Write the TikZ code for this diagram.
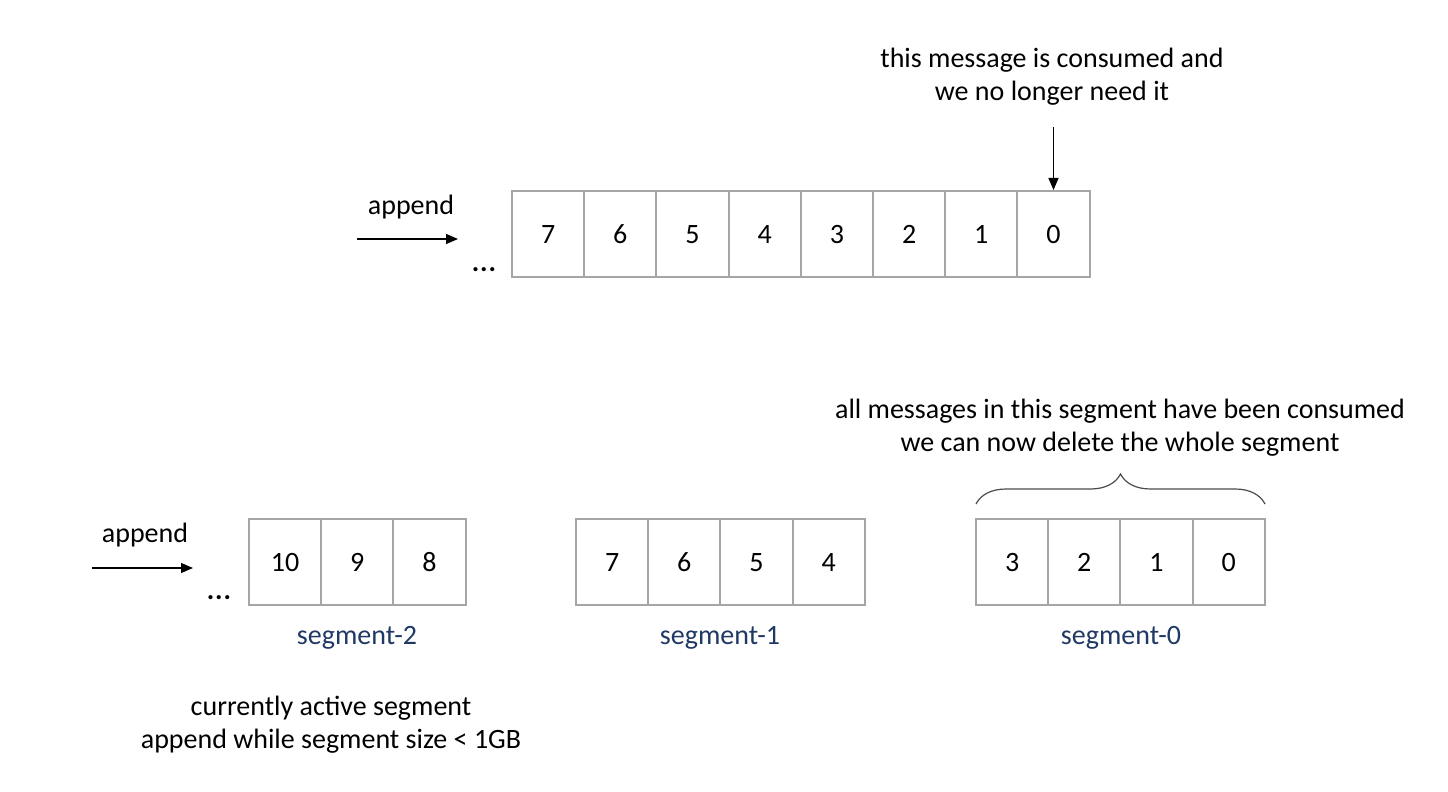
\documentclass[tikz,border=0pt]{standalone}
\usepackage{fontspec}
\setmainfont{Carlito}
\usetikzlibrary{arrows.meta,decorations.pathreplacing}
\definecolor{boxgray}{HTML}{A6A6A6}
\definecolor{segblue}{HTML}{203864}
\begin{document}
\begin{tikzpicture}[x=0.5pt,y=-0.5pt,
  cell/.style={draw=boxgray,line width=1pt,minimum width=36.1pt,minimum height=43pt,inner sep=0pt,text height=9pt,text depth=0pt,font=\fontsize{14}{17}\selectfont},
  txt/.style={font=\fontsize{14}{16.5}\selectfont,align=center,inner sep=0pt},
  seg/.style={font=\fontsize{14}{16.5}\selectfont,text=segblue,inner sep=0pt},
  arr/.style={-{Triangle[length=6pt,width=5pt]},line width=0.6pt}]
\useasboundingbox (0,0) rectangle (1448,792);
% top row
\foreach \v [count=\i from 0] in {7,6,5,4,3,2,1,0}{
  \node[cell] (t\v) at (548.1+72.2*\i,234) {\v};
}
\node[txt,font=\bfseries\fontsize{14}{16.5}\selectfont] (tdots) at (484,270) {.\kern0.5pt.\kern0.5pt.};
\node[txt] (tapp) at (411,207) {append};
\coordinate (tas) at (357,239);
\coordinate (tae) at (458,239);
\draw[arr] (tas) -- (tae);
\node[txt] (tnote) at (1052,77) {this message is consumed and\\we no longer need it};
\path (t0.north) ++(0,-63) coordinate (tarrs);
\draw[arr] (tarrs) -- (t0.north);
% segment-2
\foreach \v [count=\i from 0] in {10,9,8}{
  \node[cell] (s\v) at (285.1+72.2*\i,562) {\v};
}
\node[txt,font=\bfseries\fontsize{14}{16.5}\selectfont] (bdots) at (219,598) {.\kern0.5pt.\kern0.5pt.};
\node[txt] (bapp) at (145,535) {append};
\coordinate (bas) at (92,568);
\coordinate (bae) at (193,568);
\draw[arr] (bas) -- (bae);
\node[seg] (l2) at (357,638) {segment-2};
% segment-1
\foreach \v [count=\i from 0] in {7,6,5,4}{
  \node[cell] (m\v) at (612.1+72.2*\i,562) {\v};
}
\node[seg] (l1) at (720,638) {segment-1};
% segment-0
\foreach \v [count=\i from 0] in {3,2,1,0}{
  \node[cell] (z\v) at (1012.1+72.2*\i,562) {\v};
}
\node[seg] (l0) at (1121,638) {segment-0};
\coordinate (brl) at (976,504);
\coordinate (brr) at (1265,504);
\draw[line width=0.6pt,black!70,decorate,decoration={brace,amplitude=15pt}] (brl) -- (brr);
\node[txt] (bnote) at (1120,428) {all messages in this segment have been consumed\\we can now delete the whole segment};
\node[txt] (anote) at (331,725) {currently active segment\\append while segment size < 1GB};
\end{tikzpicture}
\end{document}
